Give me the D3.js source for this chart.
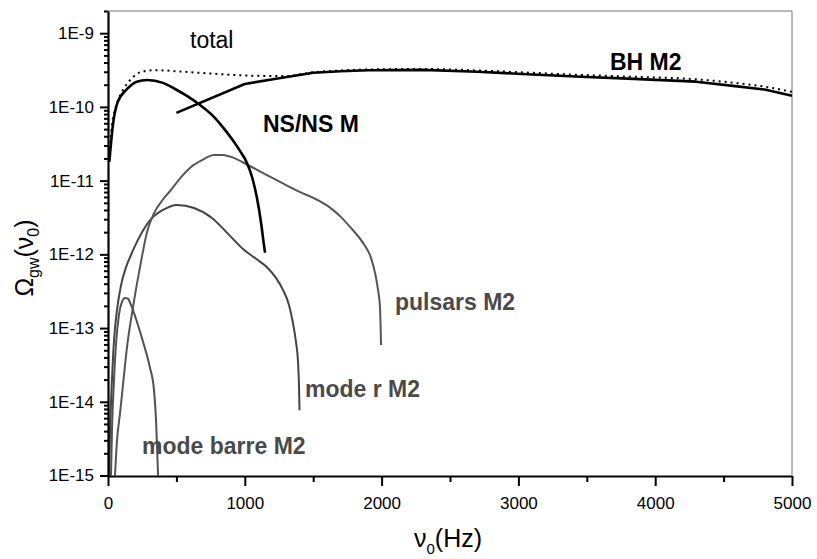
<!DOCTYPE html>
<html><head><meta charset="utf-8">
<script src="https://cdn.jsdelivr.net/npm/d3@7"></script>
<style>body{margin:0;background:#fff} svg{display:block;font-family:"Liberation Sans",Arial,sans-serif}</style>
</head><body><svg id="c" width="817" height="559"></svg>
<script>
// ---- tick data ----
const xTicks = [0, 1000, 2000, 3000, 4000, 5000];
const xMinorTicks = [500, 1500, 2500, 3500, 4500];
const yTicks = [1e-15, 1e-14, 1e-13, 1e-12, 1e-11, 1e-10, 1e-9];
const yTickLabels = ["1E-15", "1E-14", "1E-13", "1E-12", "1E-11", "1E-10", "1E-9"];

// ---- series data (frequency Hz, Omega_gw) ----
const totalFreq = [10, 30, 50, 75, 110, 175, 235, 350, 550, 800, 1050, 1300, 1500, 1700, 1900, 2300, 2700, 3100, 3500, 3800, 4300, 4600, 4800, 5000];
const totalVal  = [2.2e-11, 6e-11, 9e-11, 1.25e-10, 1.7e-10, 2.45e-10, 2.95e-10, 3.15e-10, 3.0e-10, 2.8e-10, 2.65e-10, 2.62e-10, 2.95e-10, 3.12e-10, 3.22e-10, 3.27e-10, 3.12e-10, 2.9e-10, 2.7e-10, 2.58e-10, 2.37e-10, 2.1e-10, 1.88e-10, 1.6e-10];

const bhFreq = [500, 1000, 1250, 1500, 1700, 1900, 2300, 2700, 3100, 3500, 3800, 4300, 4600, 4800, 5000];
const bhVal  = [8.3e-11, 2.05e-10, 2.45e-10, 2.9e-10, 3.05e-10, 3.15e-10, 3.18e-10, 3.0e-10, 2.75e-10, 2.55e-10, 2.42e-10, 2.2e-10, 1.9e-10, 1.72e-10, 1.42e-10];

const nsFreq = [10, 35, 70, 140, 210, 285, 402, 490, 577, 673, 760, 833, 906, 965, 1016, 1053, 1089, 1118, 1140, 1148];
const nsVal  = [1.8e-11, 5.5e-11, 1.15e-10, 1.75e-10, 2.2e-10, 2.32e-10, 2.12e-10, 1.75e-10, 1.41e-10, 1.06e-10, 7.8e-11, 5.5e-11, 3.68e-11, 2.53e-11, 1.74e-11, 1.12e-11, 5.8e-12, 2.75e-12, 1.34e-12, 1.05e-12];

const pulsarFreq = [51, 66, 88, 117, 139, 183, 234, 285, 336, 400, 461, 530, 607, 690, 775, 840, 899, 1023, 1162, 1301, 1404, 1528, 1623, 1696, 1776, 1864, 1923, 1952, 1974, 1988, 1996];
const pulsarVal  = [1e-15, 3.0e-15, 7.0e-15, 2.3e-14, 5.5e-14, 1.93e-13, 6.7e-13, 2.0e-12, 3.6e-12, 5.5e-12, 7.5e-12, 1.09e-11, 1.53e-11, 1.91e-11, 2.23e-11, 2.22e-11, 2.10e-11, 1.63e-11, 1.19e-11, 8.7e-12, 7.0e-12, 5.5e-12, 4.3e-12, 3.3e-12, 2.28e-12, 1.43e-12, 8.9e-13, 5.6e-13, 3.3e-13, 1.93e-13, 5.9e-14];

const modeRFreq = [7, 15, 29, 44, 66, 95, 132, 168, 234, 314, 402, 504, 629, 760, 892, 987, 1082, 1162, 1228, 1279, 1323, 1352, 1374, 1389, 1396, 1400];
const modeRVal  = [1e-15, 4.1e-15, 1.98e-14, 6.9e-14, 1.76e-13, 3.8e-13, 6.7e-13, 9.8e-13, 1.78e-12, 3.0e-12, 4.0e-12, 4.68e-12, 4.26e-12, 3.12e-12, 1.78e-12, 1.18e-12, 8.7e-13, 6.7e-13, 4.8e-13, 3.3e-13, 2.06e-13, 1.17e-13, 6.5e-14, 3.47e-14, 1.69e-14, 7.7e-15];

const barreFreq = [22, 29, 44, 58, 80, 102, 124, 146, 168, 212, 263, 307, 336, 351, 358, 366];
const barreVal  = [1e-15, 4.1e-15, 1.98e-14, 5.9e-14, 1.51e-13, 2.26e-13, 2.55e-13, 2.5e-13, 2.06e-13, 1.21e-13, 5.9e-14, 2.9e-14, 1.45e-14, 5.7e-15, 2.6e-15, 1e-15];

// ---- drawing ----
const svg = d3.select("#c");
const x = d3.scaleLinear().domain([0, 5000]).range([108, 792]);
const y = d3.scaleLog().domain([1e-15, 2e-9]).range([475.5, 11]);

// frame (top/right thin gray)
svg.append("line").attr("x1", 108).attr("x2", 792).attr("y1", y(2e-9)).attr("y2", y(2e-9)).attr("stroke", "#777").attr("stroke-width", 1);
svg.append("line").attr("x1", 792).attr("x2", 792).attr("y1", y(2e-9)).attr("y2", y(1e-15)).attr("stroke", "#777").attr("stroke-width", 1);

// series
const zip = (a, b) => a.map((v, i) => [v, b[i]]);
const line = d3.line().x(d => x(d[0])).y(d => y(d[1])).curve(d3.curveMonotoneX);
const lineLin = d3.line().x(d => x(d[0])).y(d => y(d[1]));

const g = svg.append("g").attr("fill", "none").attr("stroke-linejoin", "round");
g.append("path").attr("d", line(zip(barreFreq, barreVal))).attr("stroke", "#505050").attr("stroke-width", 2);
g.append("path").attr("d", line(zip(modeRFreq, modeRVal))).attr("stroke", "#444").attr("stroke-width", 2);
g.append("path").attr("d", line(zip(pulsarFreq, pulsarVal))).attr("stroke", "#555").attr("stroke-width", 2);
g.append("path").attr("d", line(zip(nsFreq, nsVal))).attr("stroke", "#000").attr("stroke-width", 2.6);
g.append("path").attr("d", lineLin(zip(bhFreq, bhVal))).attr("stroke", "#000").attr("stroke-width", 2.6);
g.append("path").attr("d", line(zip(totalFreq, totalVal))).attr("stroke", "#000").attr("stroke-width", 2).attr("stroke-dasharray", "2 4");

// axes
const yMinor = [];
for (let e = -15; e <= -10; e++) for (let k = 2; k <= 9; k++) yMinor.push(k * Math.pow(10, e));
yMinor.push(2e-9);

const ax = svg.append("g").attr("transform", "translate(108,0)")
  .call(d3.axisLeft(y).tickValues(yTicks).tickFormat((d, i) => yTickLabels[i]).tickSize(8).tickSizeOuter(0).tickPadding(6));
svg.append("g").attr("transform", "translate(108,0)")
  .call(d3.axisLeft(y).tickValues(yMinor).tickFormat("").tickSize(4).tickSizeOuter(0))
  .select(".domain").remove();

const bx = svg.append("g").attr("transform", "translate(0,476)")
  .call(d3.axisBottom(x).tickValues(xTicks).tickFormat(d3.format("d")).tickSize(10).tickSizeOuter(0).tickPadding(11));
svg.append("g").attr("transform", "translate(0,476)")
  .call(d3.axisBottom(x).tickValues(xMinorTicks).tickFormat("").tickSize(6).tickSizeOuter(0))
  .select(".domain").remove();

svg.selectAll(".tick line").attr("stroke", "#000").attr("stroke-width", 2);
ax.select(".domain").attr("stroke", "#000").attr("stroke-width", 2.2);
bx.select(".domain").attr("stroke", "#000").attr("stroke-width", 2.2);
svg.selectAll(".tick text").attr("font-family", "Liberation Sans, Arial, sans-serif").attr("font-size", 17).attr("fill", "#000");

// axis titles
const xt = svg.append("text").attr("x", 448).attr("y", 547).attr("text-anchor", "middle").attr("font-size", 25).attr("fill", "#000");
xt.append("tspan").text("ν");
xt.append("tspan").attr("dy", 7).attr("font-size", 15).text("0");
xt.append("tspan").attr("dy", -7).text("(Hz)");

const yt = svg.append("text").attr("transform", "translate(33,258) rotate(-90)").attr("text-anchor", "middle").attr("font-size", 25).attr("fill", "#000");
yt.append("tspan").text("Ω");
yt.append("tspan").attr("dy", 6).attr("font-size", 16).text("gw");
yt.append("tspan").attr("dy", -6).text("(ν");
yt.append("tspan").attr("dy", 6).attr("font-size", 16).text("0");
yt.append("tspan").attr("dy", -6).text(")");

// series labels
const labels = [
  {t: "total", x: 190, y: 48, w: "normal", c: "#000"},
  {t: "BH M2", x: 610, y: 70, w: "bold", c: "#000"},
  {t: "NS/NS M", x: 263, y: 132, w: "bold", c: "#000"},
  {t: "pulsars M2", x: 395, y: 310, w: "bold", c: "#4a4a4a"},
  {t: "mode r M2", x: 305, y: 397, w: "bold", c: "#4a4a4a"},
  {t: "mode barre M2", x: 142, y: 454, w: "bold", c: "#4a4a4a"}
];
svg.selectAll("text.lbl").data(labels).join("text").attr("class", "lbl")
  .attr("x", d => d.x).attr("y", d => d.y).attr("font-size", 23)
  .attr("font-weight", d => d.w).attr("fill", d => d.c).text(d => d.t);
</script></body></html>
